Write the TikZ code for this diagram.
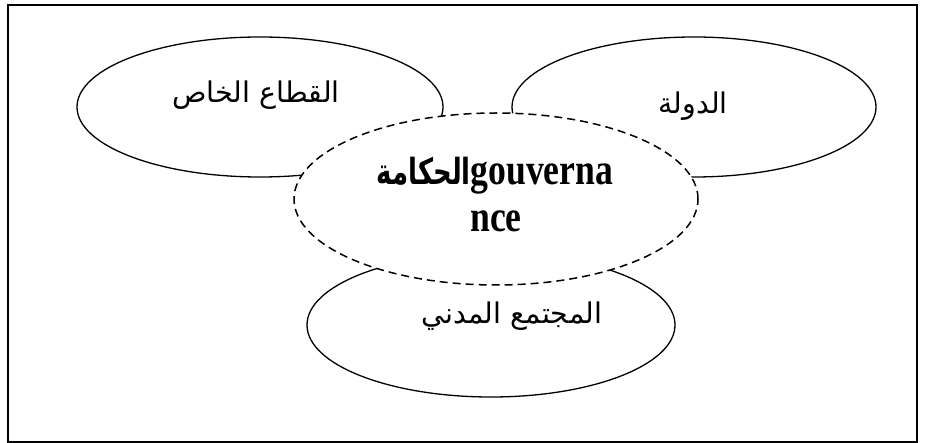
\documentclass[tikz,border=0pt]{standalone}
\usepackage{fontspec}
\setmainfont{Liberation Serif}
\newfontfamily\arabicfont[Script=Arabic]{DejaVu Sans}
\newfontfamily\centerlatin[FakeStretch=0.81]{Liberation Serif}
\newfontfamily\centerarabic[Script=Arabic,FakeStretch=0.72]{DejaVu Sans}
\TeXXeTstate=1
\usetikzlibrary{shapes.geometric}
\tikzset{
  solidell/.style={ellipse, draw, line width=1.3pt, inner sep=0pt},
  dashell/.style={ellipse, draw, fill=white, line width=1.5pt, dash pattern=on 8pt off 5pt, inner sep=0pt},
  arlabel/.style={font=\arabicfont\fontsize{28.5}{32}\selectfont, inner sep=0pt},
  govlabel/.style={font=\bfseries\fontsize{44}{47}\selectfont, align=center, inner sep=0pt},
}
\begin{document}
\begin{tikzpicture}[x=1pt,y=-1pt]
\useasboundingbox (0,0) rectangle (925,443);
\draw[line width=2pt] (8,5) rectangle (917,442);
\node[solidell, minimum width=366pt, minimum height=140pt] (prive) at (260,107) {};
\node[solidell, minimum width=364pt, minimum height=140pt] (etat) at (694,107) {};
\node[solidell, minimum width=368pt, minimum height=144pt] (civil) at (491,325) {};
\node[dashell, minimum width=404pt, minimum height=172pt] (gouv) at (496,199) {};
\node[arlabel] (tprive) at (256,95) {\beginR القطاع الخاص\endR};
\node[arlabel] (tetat) at (693,106) {\beginR الدولة\endR};
\node[arlabel] (tcivil) at (512,316) {\beginR المجتمع المدني\endR};
\node[govlabel, anchor=base] (tgouv1) at (495,185) {{\centerarabic\bfseries\fontsize{36}{40}\selectfont\beginR الحكامة\endR}{\centerlatin\bfseries gouverna}};
\node[govlabel, anchor=base] (tgouv2) at (496,232) {{\centerlatin\bfseries nce}};
\end{tikzpicture}
\end{document}
